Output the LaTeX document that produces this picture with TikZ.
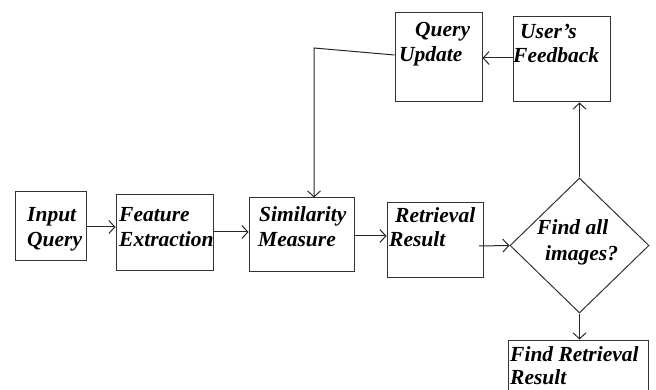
\documentclass[tikz,border=0pt]{standalone}
\usepackage{fontspec}
\setmainfont{Liberation Serif}
\usetikzlibrary{arrows.meta,shapes.geometric}
\begin{document}
\begin{tikzpicture}[x=1pt,y=-1pt,
  box/.style={draw=black!80,line width=1pt,inner sep=0pt,fill=none},
  lbl/.style={anchor=base west,inner sep=0pt,font=\fontsize{21.5}{25}\selectfont\bfseries\itshape},
  conn/.style={draw=black!85,line width=1pt,-{Straight Barb[length=6pt,width=13pt]}},
  plain/.style={draw=black!85,line width=1pt}]
\useasboundingbox (0,0) rectangle (656,390);
\clip (0,0) rectangle (656,390);
% boxes
\node[box,minimum width=71pt,minimum height=68pt] (iq) at (50.5,226) {};
\node[box,minimum width=97pt,minimum height=75pt] (fe) at (164.5,232.5) {};
\node[box,minimum width=105pt,minimum height=73pt] (sm) at (301.5,234.5) {};
\node[box,minimum width=96pt,minimum height=74pt] (rr) at (435,240) {};
\node[box,diamond,minimum width=139pt,minimum height=135pt] (dm) at (579.5,245.5) {};
\node[box,minimum width=140pt,minimum height=71pt] (frr) at (578,375.5) {};
\node[box,minimum width=87pt,minimum height=89pt] (qu) at (438.5,57.5) {};
\node[box,minimum width=97pt,minimum height=85pt] (uf) at (561.5,59.5) {};
% labels
\node[lbl] (t1) at (27,222) {Input};
\node[lbl] (t2) at (27,247) {Query};
\node[lbl] (t3) at (119,222) {Feature};
\node[lbl] (t4) at (119,247) {Extraction};
\node[lbl] (t5) at (259,222) {Similarity};
\node[lbl] (t6) at (258,247) {Measure};
\node[lbl] (t7) at (395,223) {Retrieval};
\node[lbl] (t8) at (389,247) {Result};
\node[lbl] (t9) at (537,235) {Find all};
\node[lbl] (t10) at (545,260) {images?};
\node[lbl] (t11) at (510,361) {Find Retrieval};
\node[lbl] (t12) at (510,384) {Result};
\node[lbl] (t13) at (415,37) {Query};
\node[lbl] (t14) at (399,62) {Update};
\node[lbl] (t15) at (520,39) {User\char"0027 s};
\node[lbl] (t16) at (513,63) {Feedback};
% connectors
\draw[conn] (iq.east |- 0,227) -- (fe.west |- 0,227);
\draw[conn] (fe.east |- 0,232) -- (sm.west |- 0,232);
\draw[conn] (sm.east |- 0,236) -- (rr.west |- 0,236);
\draw[conn] (479,246) -- (dm.west);
\draw[conn] (dm.north) -- (uf.south -| dm.north);
\draw[conn] (uf.west |- 0,58) -- (qu.east |- 0,58);
\draw[conn] (dm.south) -- (frr.north -| dm.south);
\coordinate (bend) at (314,48);
\draw[conn] (qu.west |- 0,55) -- (bend) -- (sm.north -| bend);
\end{tikzpicture}
\end{document}
